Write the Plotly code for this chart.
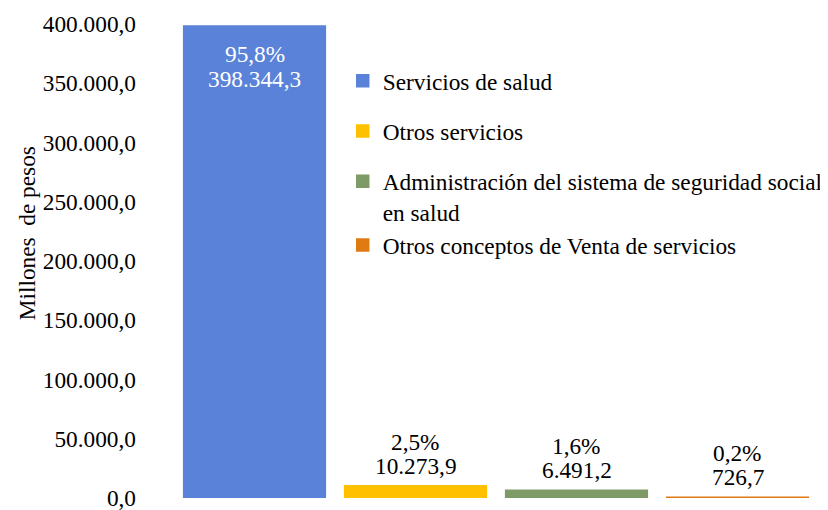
import plotly.graph_objects as go

categories = ["Servicios de salud", "Otros servicios",
              "Administración del sistema de seguridad social<br>en salud",
              "Otros conceptos de Venta de servicios"]
values = [398344.3, 10273.9, 6491.2, 726.7]
percents = ["95,8%", "2,5%", "1,6%", "0,2%"]
colors = ["#5A82D8", "#FFC000", "#7E9A66", "#E07B14"]
groups = ["g1", "g2", "g3", "g3"]
tick_vals = [0, 50000, 100000, 150000, 200000, 250000, 300000, 350000, 400000]

FONT = "Liberation Serif"
FS = 23.3

def fmt(v):
    s = f"{v:,.1f}"
    return s.replace(",", "X").replace(".", ",").replace("X", ".")

fig = go.Figure()
for i, (c, v, col, g) in enumerate(zip(categories, values, colors, groups)):
    fig.add_trace(go.Bar(x=[i], y=[v], name=c,
                         marker=dict(color=col, line=dict(width=1.5, color=col)),
                         legendgroup=g, hoverinfo="skip"))

annotations = []
for i, (v, p) in enumerate(zip(values, percents)):
    if i == 0:
        shifts, col = (-28, -53), "white"
    else:
        shifts, col = (44, 20), "black"
    for txt, sh in zip((p, fmt(v)), shifts):
        annotations.append(dict(x=i, y=v, xref="x", yref="y", text=txt,
                                showarrow=False, yanchor="middle", yshift=sh,
                                font=dict(color=col, size=FS, family=FONT)))

annotations.append(dict(x=-0.228, y=0.559, xref="paper", yref="paper", text="Millones  de pesos",
                        xanchor="center", yanchor="middle",
                        textangle=-90, showarrow=False, font=dict(size=FS, family=FONT, color="black")))

fig.update_layout(
    width=820, height=502,
    margin=dict(l=166, r=10, t=16, b=12, autoexpand=False),
    paper_bgcolor="white", plot_bgcolor="white",
    barmode="overlay", bargap=0.12,
    separators=",.",
    font=dict(family=FONT, size=FS, color="black"),
    showlegend=True,
    legend=dict(x=0.262, y=0.926, xanchor="left", yanchor="top",
                tracegroupgap=17, valign="top", bgcolor="rgba(0,0,0,0)",
                font=dict(size=FS, family=FONT), traceorder="grouped"),
    annotations=annotations,
)
fig.update_xaxes(showticklabels=False, showgrid=False, zeroline=False, showline=False,
                 range=[-0.5, 3.5], automargin=False)
fig.update_yaxes(range=[0, 400000], tickvals=tick_vals, tickformat=",.1f",
                 showgrid=False, zeroline=False, showline=False, ticks="",
                 ticklabelstandoff=37, tickfont=dict(size=FS, family=FONT),
                 automargin=False, ticklabeloverflow="allow")

fig.write_html("out.html")
